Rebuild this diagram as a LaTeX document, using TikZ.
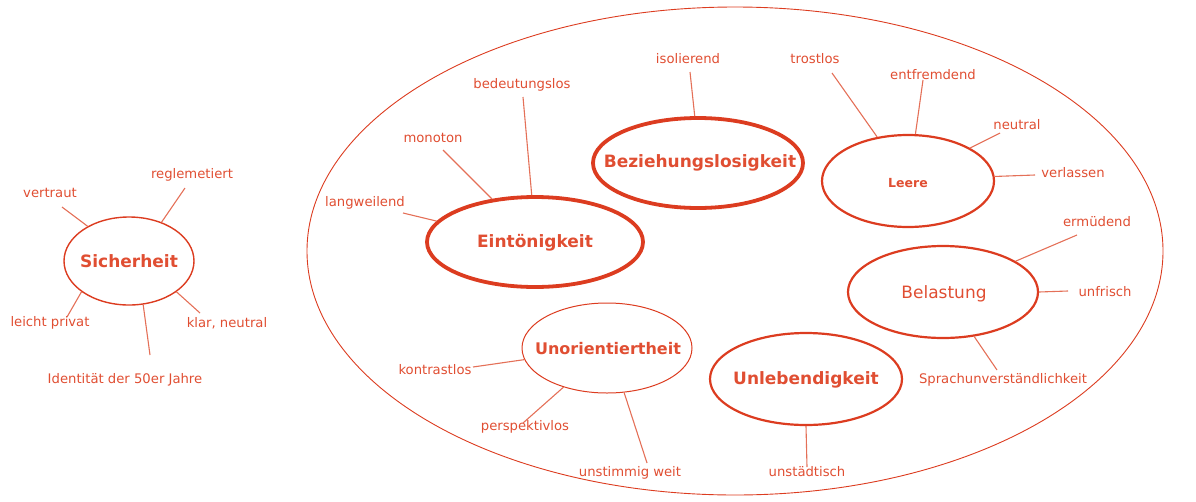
\documentclass[tikz,border=0pt]{standalone}
\usepackage{fontspec}
\setmainfont{DejaVu Sans}
\usetikzlibrary{shapes.geometric}
\definecolor{txt}{RGB}{224,78,50}
\definecolor{ring}{RGB}{220,60,32}
\definecolor{conn}{RGB}{228,112,88}
\tikzset{
  lbl/.style={text=txt, font=\fontsize{13.2}{15}\selectfont, inner sep=1pt},
  ttl/.style={text=txt, font=\fontsize{17}{19}\selectfont\bfseries, inner sep=0pt},
  ell/.style={draw=ring, ellipse, inner sep=0pt},
  thin ell/.style={ell, line width=1pt},
  mid ell/.style={ell, line width=2.2pt},
  thick ell/.style={ell, line width=3.8pt},
  cn/.style={draw=conn, line width=1.1pt},
}
\begin{document}
\begin{tikzpicture}[x=1pt,y=-1pt]
\useasboundingbox (0,0) rectangle (1196,501);
% outer ellipse
\node[ell, line width=0.9pt, minimum width=856pt, minimum height=488pt] (outer) at (735,251) {};

% Sicherheit
\node[ell, line width=1.4pt, minimum width=130pt, minimum height=88pt] (sE) at (129,261) {};
\node[ttl] (sT) at (129,261) {Sicherheit};
\node[lbl] (s1) at (50,193) {vertraut};
\node[lbl] (s2) at (192,175) {reglemetiert};
\node[lbl] (s3) at (50,323) {leicht privat};
\node[lbl] (s4) at (227,323) {klar, neutral};
\node[lbl] (s5) at (125,380) {Identität der 50er Jahre};
\coordinate (s1c) at (62,207);
\coordinate (s2c) at (185,188);
\coordinate (s3c) at (67,317);
\coordinate (s4c) at (200,313);
\coordinate (s5c) at (150,355);
\draw[cn] (s1c) -- (sE.140);
\draw[cn] (s2c) -- (sE.50);
\draw[cn] (s3c) -- (sE.213);
\draw[cn] (s4c) -- (sE.-33);
\draw[cn] (s5c) -- (sE.-72);

% Eintoenigkeit
\node[thick ell, minimum width=216pt, minimum height=90pt] (eE) at (535,242) {};
\node[ttl] (eT) at (535,243) {Eintönigkeit};
\node[lbl] (e1) at (365,203) {langweilend};
\node[lbl] (e2) at (433,138) {monoton};
\node[lbl] (e3) at (522,85) {bedeutungslos};
\coordinate (e1c) at (403,213);
\coordinate (e2c) at (443,150);
\coordinate (e3c) at (523,97);
\draw[cn] (e1c) -- (eE.168);
\draw[cn] (e2c) -- (eE.135);
\draw[cn] (e3c) -- (eE.94);

% Beziehungslosigkeit
\node[thick ell, minimum width=210pt, minimum height=90pt] (bE) at (698,163) {};
\node[ttl] (bT) at (700,163) {Beziehungslosigkeit};
\node[lbl] (b1) at (688,59) {isolierend};
\coordinate (b1c) at (690,72);
\draw[cn] (b1c) -- (bE.94);

% Leere
\node[mid ell, minimum width=172pt, minimum height=92pt] (lE) at (908,181) {};
\node[ttl, font=\fontsize{12.5}{14}\selectfont\bfseries] (lT) at (908,183) {Leere};
\node[lbl] (l1) at (815,59) {trostlos};
\node[lbl] (l2) at (933,75) {entfremdend};
\node[lbl] (l3) at (1017,125) {neutral};
\node[lbl] (l4) at (1073,173) {verlassen};
\coordinate (l1c) at (832,73);
\coordinate (l2c) at (923,80);
\coordinate (l3c) at (1000,133);
\coordinate (l4c) at (1035,175);
\draw[cn] (l1c) -- (lE.125);
\draw[cn] (l2c) -- (lE.81);
\draw[cn] (l3c) -- (lE.28);
\draw[cn] (l4c) -- (lE.3);

% Belastung
\node[mid ell, minimum width=190pt, minimum height=92pt] (aE) at (943,292) {};
\node[ttl, font=\fontsize{17}{19}\selectfont] (aT) at (944,294) {Belastung};
\node[lbl] (a1) at (1097,222) {ermüdend};
\node[lbl] (a2) at (1105,292) {unfrisch};
\node[lbl] (a3) at (1003,380) {Sprachunverständlichkeit};
\coordinate (a1c) at (1077,235);
\coordinate (a2c) at (1068,291);
\coordinate (a3c) at (997,370);
\draw[cn] (a1c) -- (aE.23);
\draw[cn] (a2c) -- (aE.0);
\draw[cn] (a3c) -- (aE.-55);

% Unlebendigkeit
\node[mid ell, minimum width=192pt, minimum height=92pt] (uE) at (806,379) {};
\node[ttl] (uT) at (806,380) {Unlebendigkeit};
\node[lbl] (u1) at (807,472) {unstädtisch};
\coordinate (u1c) at (807,467);
\draw[cn] (u1c) -- (uE.-90);

% Unorientiertheit
\node[thin ell, minimum width=170pt, minimum height=90pt] (oE) at (607,348) {};
\node[ttl, font=\fontsize{16}{18}\selectfont\bfseries] (oT) at (608,349) {Unorientiertheit};
\node[lbl] (o1) at (435,370) {kontrastlos};
\node[lbl] (o2) at (525,427) {perspektivlos};
\node[lbl] (o3) at (630,473) {unstimmig weit};
\coordinate (o1c) at (473,367);
\coordinate (o2c) at (523,423);
\coordinate (o3c) at (647,463);
\draw[cn] (o1c) -- (oE.188);
\draw[cn] (o2c) -- (oE.222);
\draw[cn] (o3c) -- (oE.-69);
\end{tikzpicture}
\end{document}
